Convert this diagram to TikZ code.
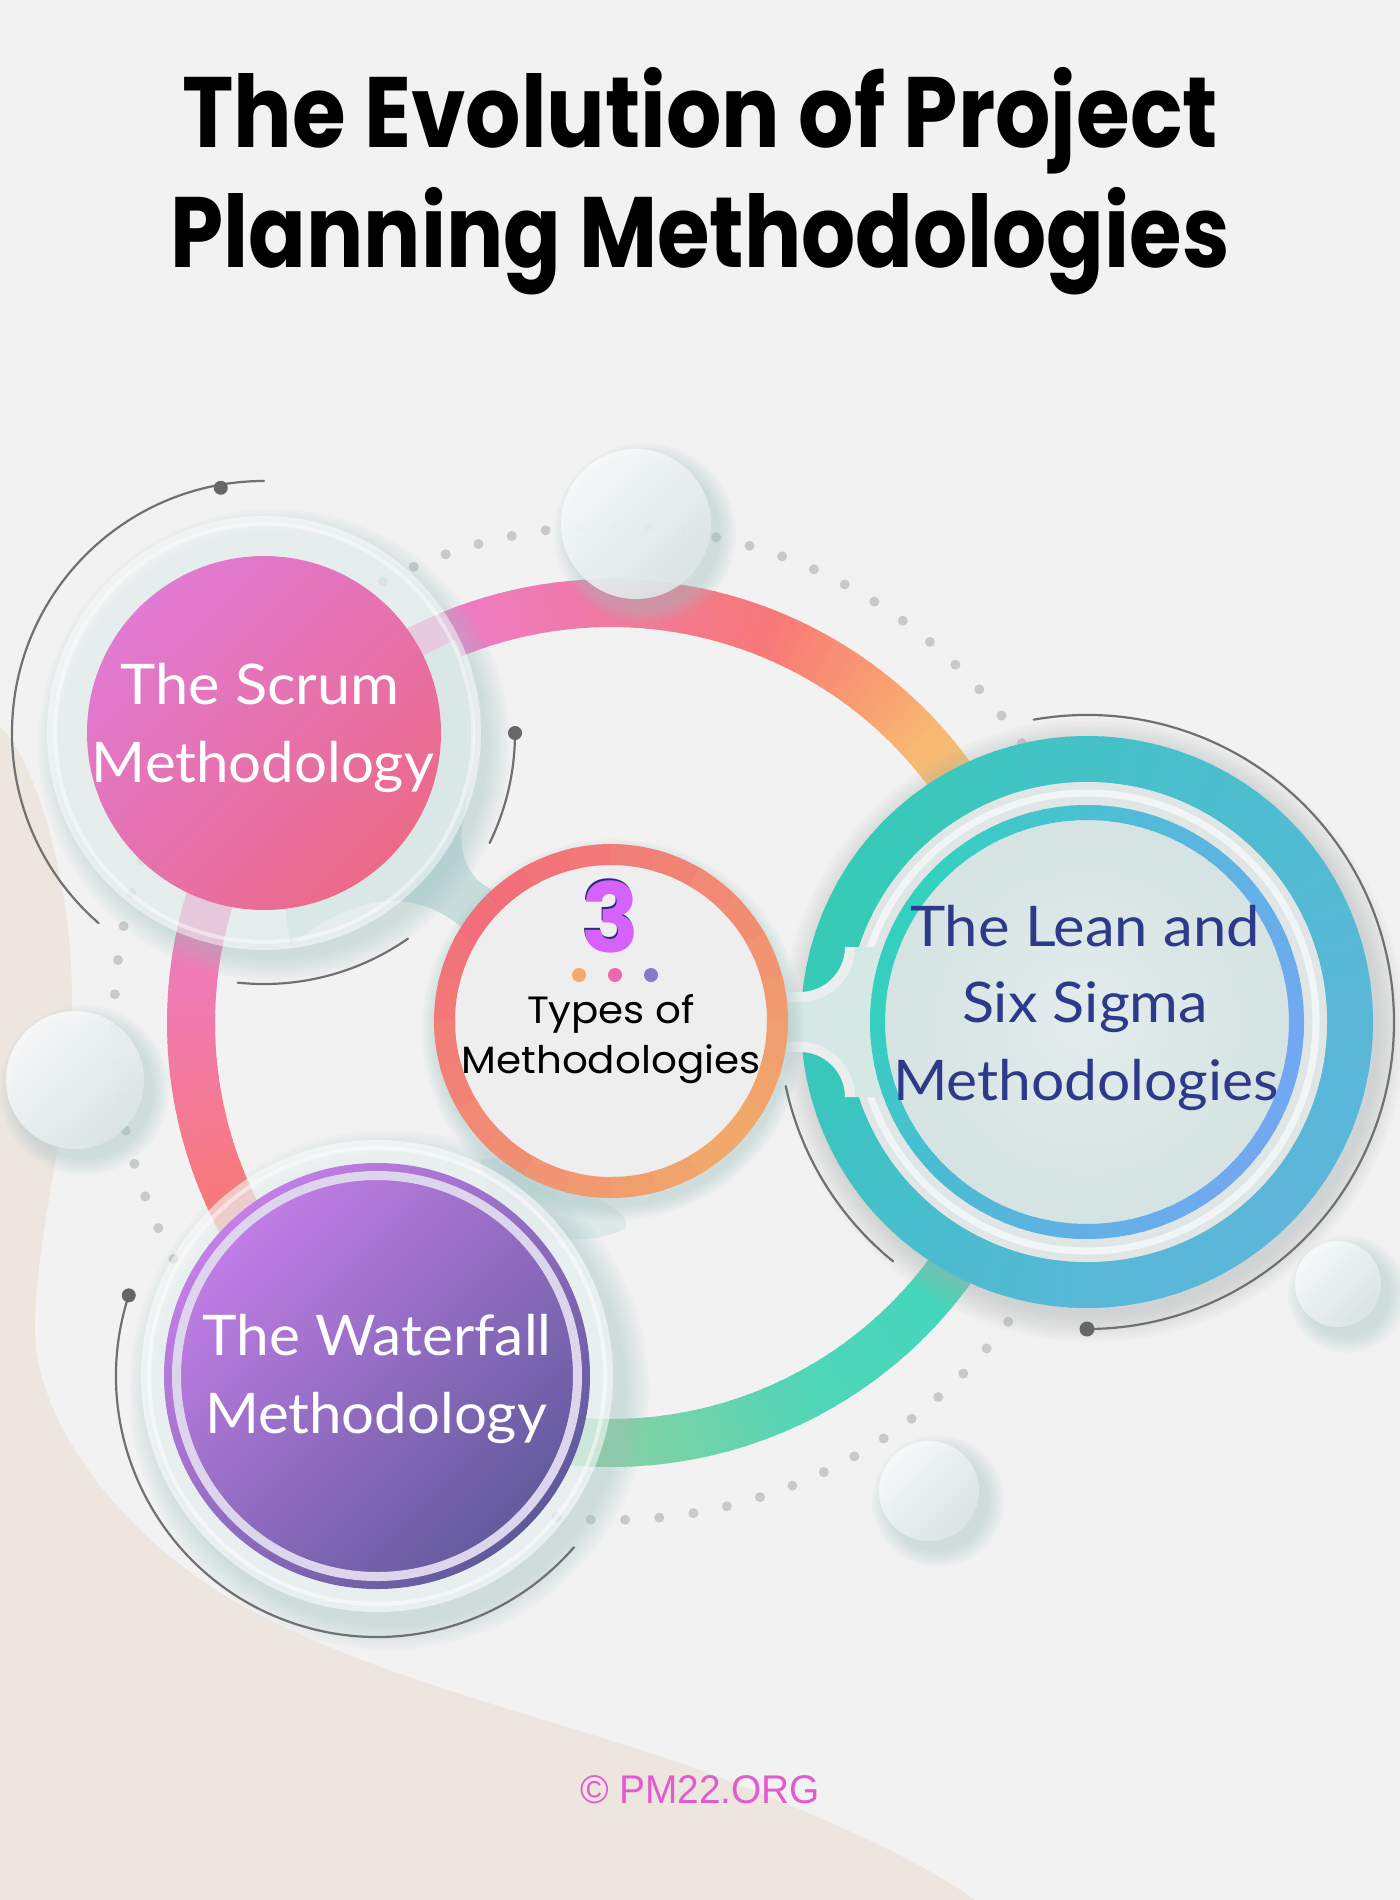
\documentclass[tikz,border=0pt]{standalone}
\usepackage{fontspec}
\usepackage{graphicx}
\newfontfamily\poppins{Poppins}
\newfontfamily\latof{Lato}
\newfontfamily\libsans{Liberation Sans}
\definecolor{bg}{HTML}{F2F2F2}
\definecolor{beige}{HTML}{EDE6DF}
\definecolor{dotc}{HTML}{C9C9C9}
\definecolor{arcc}{HTML}{707070}
\definecolor{dotdark}{HTML}{676767}
\definecolor{neckc}{HTML}{C8DCDC}
\definecolor{neckl}{HTML}{D8E6E6}
\definecolor{shteal}{HTML}{A3C6C6}
\definecolor{shgray}{HTML}{A8B0B0}
\definecolor{scrumA}{HTML}{E17AD3}
\definecolor{scrumB}{HTML}{EB6A88}
\definecolor{wfA}{HTML}{C47EE8}
\definecolor{wfB}{HTML}{5F5A9B}
\definecolor{wfring}{HTML}{DDD5EB}
\definecolor{cenA}{HTML}{F26B7C}
\definecolor{cenB}{HTML}{F0AC6A}
\definecolor{cenfill}{HTML}{EEEEEE}
\definecolor{lA}{HTML}{34CBB6}
\definecolor{lB}{HTML}{38C9B8}
\definecolor{lC}{HTML}{44C2C8}
\definecolor{lD}{HTML}{50BCD2}
\definecolor{lE}{HTML}{5AB7D8}
\definecolor{lF}{HTML}{5DB6DA}
\definecolor{lG}{HTML}{58B8D8}
\definecolor{lH}{HTML}{46BECC}
\definecolor{tA}{HTML}{36CFC0}
\definecolor{tB}{HTML}{34D0C0}
\definecolor{tC}{HTML}{4AC0D2}
\definecolor{tD}{HTML}{60B2E4}
\definecolor{tE}{HTML}{72A8F2}
\definecolor{tF}{HTML}{72A8F0}
\definecolor{tG}{HTML}{62B0E6}
\definecolor{tH}{HTML}{4ABCD4}
\definecolor{gapc}{HTML}{E0E6E6}
\definecolor{chanc}{HTML}{D6E8E6}
\definecolor{edgec}{HTML}{ECEEEE}
\definecolor{lfA}{HTML}{E3ECEC}
\definecolor{lfB}{HTML}{D5E3E3}
\definecolor{navyt}{HTML}{2D3A8A}
\definecolor{threec}{HTML}{D563FB}
\definecolor{threel}{HTML}{2B2B7A}
\definecolor{dotA}{HTML}{F6A86A}
\definecolor{dotB}{HTML}{EC6AA8}
\definecolor{dotC}{HTML}{8A78CC}
\definecolor{copyc}{HTML}{E35BCF}
\definecolor{ballA}{HTML}{F9FBFB}
\definecolor{ballB}{HTML}{DCE6E6}
\definecolor{rA}{HTML}{8CD0A0}
\definecolor{rB}{HTML}{86D2A2}
\definecolor{rC}{HTML}{4ED6B8}
\definecolor{rD}{HTML}{44D6BC}
\definecolor{rE}{HTML}{9CCB98}
\definecolor{rF}{HTML}{F4C274}
\definecolor{rG}{HTML}{F8B872}
\definecolor{rH}{HTML}{F8A070}
\definecolor{rI}{HTML}{F87878}
\definecolor{rJ}{HTML}{F07A9C}
\definecolor{rK}{HTML}{EE7BC2}
\definecolor{rL}{HTML}{EE7ABC}
\definecolor{rM}{HTML}{F07AB4}
\definecolor{rN}{HTML}{F47A98}
\definecolor{rO}{HTML}{F87878}
% gradient arc: cx, cy, r, width, a1, a2, colour1, colour2
\newcommand\garc[8]{%
  \foreach \gi in {0,...,11}{%
    \pgfmathsetmacro\gA{#5+(#6-#5)*\gi/12}%
    \pgfmathsetmacro\gB{#5+(#6-#5)*(\gi+1.2)/12}%
    \pgfmathsetmacro\gP{100-100*(\gi+0.5)/12}%
    \draw[line width=#4, draw=#7!\gP!#8] ([shift={(\gA:#3)}]#1,#2) arc[start angle=\gA, end angle=\gB, radius=#3];
  }}
% soft shadow: cx, cy, r, spread, colour
\newcommand\softshadow[5]{%
  \foreach \sk in {0,...,9}{%
    \pgfmathsetmacro\sR{#3+#4*(\sk/9)}%
    \fill[#5, opacity=0.05] (#1,#2) circle[radius=\sR];
  }}
\newcommand\ball[3]{%
  \softshadow{#1+9}{#2-10}{#3}{16}{shteal}%
  \shade[opacity=0.9, top color=ballA, bottom color=ballB, shading angle=45] (#1,#2) circle[radius=#3];}
\newcommand\fitw[3]{\resizebox{#1}{\height}{\fontsize{#2}{#2}\selectfont #3}}
\tikzset{
  grayarc/.style={draw=arcc, line width=1.1pt, line cap=round},
  knob/.style={fill=dotdark},
  lbl/.style={anchor=base, inner sep=0pt, outer sep=0pt}
}
\begin{document}
\begin{tikzpicture}[x=0.5pt,y=0.5pt]
\useasboundingbox (0,0) rectangle (1400,-1900);
\fill[bg] (0,0) rectangle (1400,-1900);
% beige background blob
\fill[beige] (0,-727) .. controls (35,-760) and (72,-880) .. (72,-1000)
  .. controls (72,-1120) and (35,-1230) .. (35,-1330)
  .. controls (35,-1420) and (120,-1540) .. (250,-1610)
  .. controls (380,-1680) and (560,-1720) .. (700,-1770)
  .. controls (820,-1815) and (920,-1860) .. (975,-1900) -- (0,-1900) -- cycle;
% dotted circle
\foreach \k in {0,...,90}{\fill[dotc] ([shift={({93.6-3.956*\k}:497)}]611,-1023) circle[radius=5];}
% big gradient ring
\garc{611}{-1023}{420}{24pt}{-125}{-90}{rA}{rB}
\garc{611}{-1023}{420}{24pt}{-90}{-60}{rB}{rC}
\garc{611}{-1023}{420}{24pt}{-60}{-40}{rC}{rD}
\garc{611}{-1023}{420}{24pt}{-40}{-5}{rD}{rE}
\garc{611}{-1023}{420}{24pt}{-5}{30}{rE}{rF}
\garc{611}{-1023}{420}{24pt}{30}{42}{rF}{rG}
\garc{611}{-1023}{420}{24pt}{42}{51}{rG}{rH}
\garc{611}{-1023}{420}{24pt}{51}{68}{rH}{rI}
\garc{611}{-1023}{420}{24pt}{68}{88}{rI}{rJ}
\garc{611}{-1023}{420}{24pt}{88}{110}{rJ}{rK}
\garc{611}{-1023}{420}{24pt}{110}{150}{rK}{rL}
\garc{611}{-1023}{420}{24pt}{150}{175}{rL}{rM}
\garc{611}{-1023}{420}{24pt}{175}{190}{rM}{rN}
\garc{611}{-1023}{420}{24pt}{190}{204}{rN}{rO}
\garc{611}{-1023}{420}{24pt}{204}{236}{rO}{rO}
% neck (soft bridge between Scrum and centre)
\fill[neckc] (455,-640) .. controls (485,-700) and (472,-770) .. (463,-820)
  .. controls (456,-860) and (472,-885) .. (505,-895) -- (530,-960) -- (470,-935)
  .. controls (440,-905) and (400,-893) .. (360,-906)
  .. controls (330,-916) and (310,-930) .. (290,-945) -- (264,-733) -- cycle;
% light bridge between Waterfall and centre
\fill[neckl, opacity=0.8] (480,-1160) .. controls (530,-1150) and (565,-1172) .. (595,-1196)
  .. controls (615,-1210) and (630,-1215) .. (625,-1228)
  .. controls (600,-1245) and (540,-1240) .. (500,-1235) -- cycle;
% ---------- Scrum ----------
\softshadow{274}{-745}{214}{22}{shteal}
\fill[white, opacity=0.5] (264,-733) circle[radius=217];
\draw[white, opacity=0.45, line width=2pt] (264,-733) circle[radius=209];
\shade[top color=scrumA, bottom color=scrumB, shading angle=45] (264,-733) circle[radius=177];
\node[lbl, text=white] (scrum1) at (260,-704) {\latof\fitw{139.5pt}{28pt}{The Scrum}};
\node[lbl, text=white] (scrum2) at (263,-782) {\latof\fitw{171pt}{28pt}{Methodology}};
% ---------- Lean and Six Sigma ----------
\softshadow{1093}{-1030}{286}{26}{shgray}
\garc{1087}{-1022}{263}{23pt}{-180}{-135}{lA}{lH}
\garc{1087}{-1022}{263}{23pt}{-135}{-90}{lH}{lG}
\garc{1087}{-1022}{263}{23pt}{-90}{-45}{lG}{lF}
\garc{1087}{-1022}{263}{23pt}{-45}{0}{lF}{lE}
\garc{1087}{-1022}{263}{23pt}{0}{45}{lE}{lD}
\garc{1087}{-1022}{263}{23pt}{45}{90}{lD}{lC}
\garc{1087}{-1022}{263}{23pt}{90}{135}{lC}{lB}
\garc{1087}{-1022}{263}{23pt}{135}{180}{lB}{lA}
\fill[gapc] (1087,-1022) circle[radius=240];
\draw[white, opacity=0.6, line width=3.5pt] (1087,-1022) circle[radius=229];
\fill[chanc] (785,-997) -- (800,-997) arc[start angle=-90, end angle=0, radius=50] -- (900,-947)
  -- (900,-1097) -- (850,-1097) arc[start angle=0, end angle=90, radius=50] -- (785,-1047) -- cycle;
\draw[edgec, line width=5pt] (785,-997) -- (800,-997) arc[start angle=-90, end angle=0, radius=50];
\draw[edgec, line width=5pt] (785,-1047) -- (800,-1047) arc[start angle=90, end angle=0, radius=50];
\shade[inner color=lfA, outer color=lfB] (1087,-1022) circle[radius=203];
\garc{1087}{-1022}{209.5}{7.5pt}{-180}{-135}{tA}{tH}
\garc{1087}{-1022}{209.5}{7.5pt}{-135}{-90}{tH}{tG}
\garc{1087}{-1022}{209.5}{7.5pt}{-90}{-45}{tG}{tF}
\garc{1087}{-1022}{209.5}{7.5pt}{-45}{0}{tF}{tE}
\garc{1087}{-1022}{209.5}{7.5pt}{0}{45}{tE}{tD}
\garc{1087}{-1022}{209.5}{7.5pt}{45}{90}{tD}{tC}
\garc{1087}{-1022}{209.5}{7.5pt}{90}{135}{tC}{tB}
\garc{1087}{-1022}{209.5}{7.5pt}{135}{180}{tB}{tA}
\node[lbl, text=navyt] (lean1) at (1085,-946) {\latof\fitw{175pt}{28pt}{The Lean and}};
\node[lbl, text=navyt] (lean2) at (1085,-1022) {\latof\fitw{123pt}{28pt}{Six Sigma}};
\node[lbl, text=navyt] (lean3) at (1086,-1100) {\latof\fitw{193pt}{28pt}{Methodologies}};
% ---------- Centre ----------
\softshadow{613}{-1030}{177}{14}{shteal}
\fill[cenfill] (611,-1021) circle[radius=160];
\garc{611}{-1021}{166.5}{10.5pt}{135}{315}{cenA}{cenB}
\garc{611}{-1021}{166.5}{10.5pt}{135}{-45}{cenA}{cenB}
\node[lbl, text=threel] (threeshadow) at (609.5,-950.5) {\poppins\bfseries\fontsize{48pt}{48pt}\selectfont 3};
\node[lbl, text=threec] (three) at (611,-952) {\poppins\bfseries\fontsize{48pt}{48pt}\selectfont 3};
\fill[dotA] (579,-975) circle[radius=7];
\fill[dotB] (615,-975) circle[radius=7];
\fill[dotC] (651,-975) circle[radius=7];
\node[lbl, text=black] (types1) at (611,-1023) {\poppins\fitw{84pt}{19pt}{Types of}};
\node[lbl, text=black] (types2) at (611,-1073) {\poppins\fitw{149.5pt}{19pt}{Methodologies}};
% ---------- Waterfall ----------
\softshadow{389}{-1390}{236}{24}{shteal}
\fill[white, opacity=0.55] (377,-1376) circle[radius=236];
\draw[white, opacity=0.5, line width=2pt] (377,-1376) circle[radius=228];
\shade[top color=wfA, bottom color=wfB, shading angle=45] (377,-1376) circle[radius=213];
\draw[wfring, line width=4.5pt] (377,-1376) circle[radius=200.5];
\node[lbl, text=white] (wf1) at (377,-1355) {\latof\fitw{174.5pt}{28pt}{The Waterfall}};
\node[lbl, text=white] (wf2) at (376,-1433) {\latof\fitw{171pt}{28pt}{Methodology}};
% ---------- gray arcs with knobs ----------
\draw[grayarc] ([shift={(90:252)}]264,-733) arc[start angle=90, end angle=229, radius=252];
\fill[knob] ([shift={(100:249)}]264,-733) circle[radius=7];
\draw[grayarc] ([shift={(0:251)}]264,-733) arc[start angle=0, end angle=-26, radius=251];
\fill[knob] ([shift={(0:251)}]264,-733) circle[radius=7];
\draw[grayarc] ([shift={(-55:251)}]264,-733) arc[start angle=-55, end angle=-96, radius=251];
\draw[grayarc] ([shift={(162:261)}]377,-1376) arc[start angle=162, end angle=319, radius=261];
\fill[knob] ([shift={(162:261)}]377,-1376) circle[radius=7];
\draw[grayarc] ([shift={(100:307)}]1087,-1022) arc[start angle=100, end angle=-90, radius=307];
\fill[knob] ([shift={(-90:307)}]1087,-1022) circle[radius=7.5];
\draw[grayarc] ([shift={(192:308)}]1087,-1022) arc[start angle=192, end angle=231, radius=308];
% ---------- glass balls ----------
\ball{636}{-524}{75}
\ball{75}{-1080}{69}
\ball{1338}{-1284}{43}
\ball{929}{-1491}{50}
% ---------- title and credit ----------
\node[lbl, text=black] (title1) at (700,-148) {\poppins\bfseries\fitw{518pt}{50pt}{The Evolution of Project}};
\node[lbl, text=black] (title2) at (700,-267) {\poppins\bfseries\fitw{529.5pt}{50pt}{Planning Methodologies}};
\node[lbl, text=copyc] (credit) at (700,-1803) {\libsans\fitw{120pt}{20pt}{© PM22.ORG}};
\end{tikzpicture}
\end{document}
